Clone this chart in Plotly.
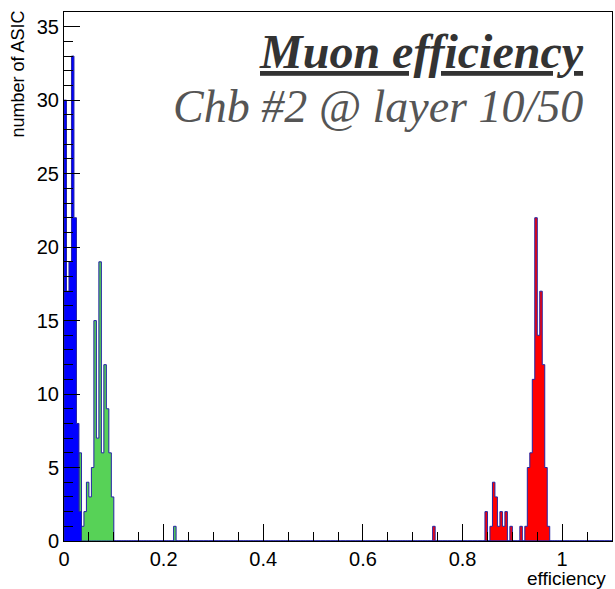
import numpy as np
import plotly.graph_objects as go

# ---- data ----
BIN_WIDTH = 0.005
X_MAX = 1.1

blue_edges = [0.000, 0.005, 0.010, 0.015, 0.020, 0.025, 0.030]
blue_counts = [30, 17, 19, 33, 22, 8, 2]

green_edges = [0.030, 0.035, 0.040, 0.045, 0.050, 0.055, 0.060, 0.065,
               0.070, 0.075, 0.080, 0.085, 0.090, 0.095, 0.220]
green_counts = [6, 1, 2, 4, 3, 5, 15, 7, 19, 6, 12, 9, 6, 3, 1]

red_edges = [0.740, 0.845, 0.855, 0.860, 0.865, 0.870, 0.875, 0.880, 0.885,
             0.895, 0.915, 0.925, 0.930, 0.935, 0.940, 0.945, 0.950, 0.955,
             0.960, 0.965, 0.970]
red_counts = [1, 2, 1, 4, 3, 1, 2, 1, 2, 1, 1, 1, 5, 6, 11, 22, 14, 17, 12, 5, 1]

x_tick_vals = [0, 0.2, 0.4, 0.6, 0.8, 1.0]
x_tick_text = ["0", "0.2", "0.4", "0.6", "0.8", "1"]
y_tick_vals = [0, 5, 10, 15, 20, 25, 30, 35]

title_text = "Muon efficiency"
subtitle_text = "Chb #2 @ layer 10/50"
x_title = "efficiency"
y_title = "number of ASIC"

# ---- build full histograms ----
n_bins = int(round(X_MAX / BIN_WIDTH))
edges = np.round(np.arange(n_bins + 1) * BIN_WIDTH, 6)


def full_hist(bin_edges, counts):
    h = np.zeros(n_bins)
    for e, c in zip(bin_edges, counts):
        h[int(round(e / BIN_WIDTH))] = c
    return h


def step_xy(h):
    xs = np.concatenate([[edges[0]], edges, [edges[-1]]])
    ys = np.concatenate([[0], h, [h[-1], 0]])
    return xs, ys


OUTLINE = "#2323a3"
fig = go.Figure()
for name, be, bc, col in [("red", red_edges, red_counts, "#ff0000"),
                          ("green", green_edges, green_counts, "#57d257"),
                          ("blue", blue_edges, blue_counts, "#0000ff")]:
    xs, ys = step_xy(full_hist(be, bc))
    fig.add_trace(go.Scatter(x=xs, y=ys, mode="lines", line_shape="hv",
                             line=dict(color=OUTLINE, width=1),
                             fill="tozeroy", fillcolor=col,
                             name=name, showlegend=False, hoverinfo="skip"))

L, R, T, B = 64, 3, 12, 48
W, H = 615, 589
pw, ph = W - L - R, H - T - B

fig.update_layout(
    width=W, height=H,
    margin=dict(l=L, r=R, t=T, b=B),
    paper_bgcolor="white", plot_bgcolor="white",
    font=dict(family="Liberation Sans, Arial, sans-serif", size=20, color="black"),
    xaxis=dict(range=[0, X_MAX], tickvals=x_tick_vals, ticktext=x_tick_text,
               ticks="inside", ticklen=17, tickwidth=1, tickcolor="black",
               minor=dict(dtick=0.05, tick0=0, ticks="inside", ticklen=9,
                          tickwidth=1, tickcolor="black", showgrid=False),
               showgrid=False, zeroline=False, showline=True, linecolor="black",
               linewidth=1, mirror=True, tickfont=dict(size=20)),
    yaxis=dict(range=[0, 36], tickvals=y_tick_vals,
               ticks="inside", ticklen=16, tickwidth=1, tickcolor="black",
               minor=dict(dtick=1, tick0=0, ticks="inside", ticklen=9,
                          tickwidth=1, tickcolor="black", showgrid=False),
               showgrid=False, zeroline=False, showline=True, linecolor="black",
               linewidth=1, mirror=True, tickfont=dict(size=20)),
)


def px_x(px):
    return (px - L) / pw


def px_y(py):
    return (H - B - py) / ph


fig.add_annotation(text="<b><i><u>" + title_text + "</u></i></b>",
                   xref="paper", yref="paper", x=px_x(586), y=px_y(52),
                   xanchor="right", yanchor="middle", showarrow=False,
                   font=dict(family="Liberation Serif, Times New Roman, serif",
                             size=48, color="#333333"))
fig.add_annotation(text="<i>" + subtitle_text + "</i>",
                   xref="paper", yref="paper", x=px_x(585), y=px_y(106),
                   xanchor="right", yanchor="middle", showarrow=False,
                   font=dict(family="Liberation Serif, Times New Roman, serif",
                             size=46, color="#555555"))
fig.add_annotation(text=x_title, xref="paper", yref="paper",
                   x=px_x(608), y=px_y(578), xanchor="right", yanchor="middle",
                   showarrow=False, font=dict(size=19))
fig.add_annotation(text=y_title, xref="paper", yref="paper",
                   x=px_x(18), y=px_y(9), xanchor="center", yanchor="top",
                   textangle=-90, showarrow=False, font=dict(size=18))

fig.write_html("out.html",
               config={"displayModeBar": False},
               post_script="document.body.style.margin='0';"
                           "document.body.style.overflow='hidden';")
